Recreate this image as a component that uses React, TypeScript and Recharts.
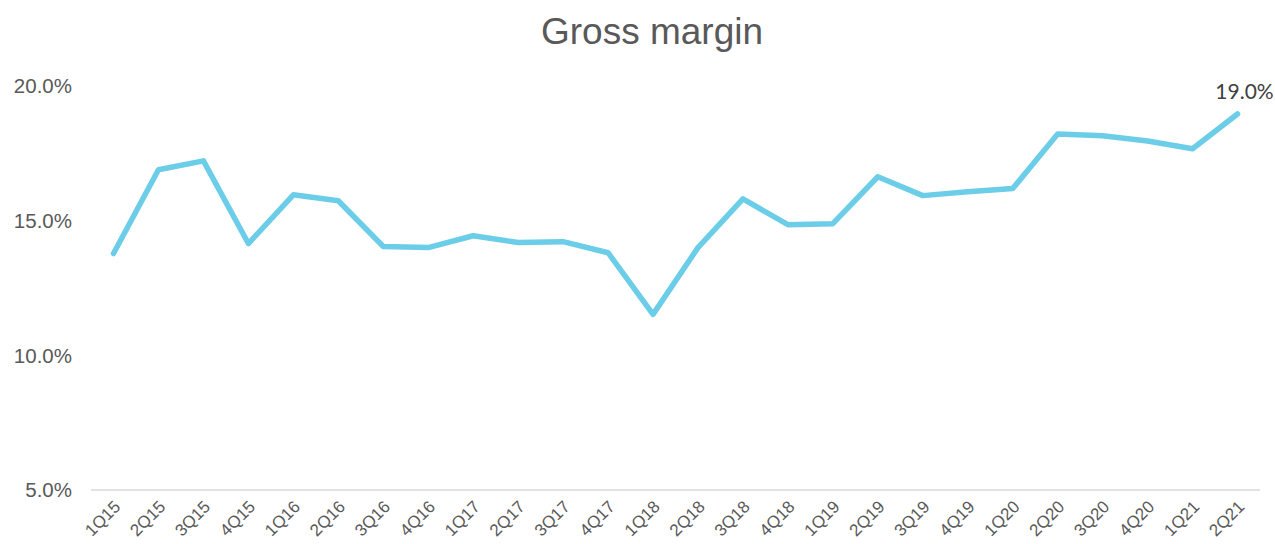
import { CartesianGrid, LabelList, Line, LineChart, XAxis, YAxis } from "recharts";

const quarters = [
  "1Q15", "2Q15", "3Q15", "4Q15", "1Q16", "2Q16", "3Q16", "4Q16", "1Q17", "2Q17", "3Q17", "4Q17", "1Q18",
  "2Q18", "3Q18", "4Q18", "1Q19", "2Q19", "3Q19", "4Q19", "1Q20", "2Q20", "3Q20", "4Q20", "1Q21", "2Q21",
];
const grossMargin = [
  13.78, 16.89, 17.22, 14.15, 15.96, 15.74, 14.04, 14.0, 14.44, 14.19, 14.22, 13.81, 11.52,
  14.0, 15.81, 14.85, 14.89, 16.63, 15.93, 16.07, 16.19, 18.22, 18.15, 17.96, 17.67, 18.96,
];
const yTicks = [5, 10, 15, 20];

const data = quarters.map((q, i) => ({ q, gm: grossMargin[i] }));

const XTick = (props: any) => {
  const { x, y, payload } = props;
  return (
    <text
      x={x + 4}
      y={y + 6}
      transform={`rotate(-45, ${x + 4}, ${y + 6})`}
      textAnchor="end"
      dominantBaseline="central"
      fill="#595959"
      fontSize={17}
      fontFamily="'Liberation Sans', Arial, sans-serif"
    >
      {payload.value}
    </text>
  );
};

const LastLabel = (props: any) => {
  const { x, y, index, value } = props;
  if (index !== quarters.length - 1) return null;
  return (
    <text x={x + 7} y={y - 15} textAnchor="middle" fill="#404040" fontSize={21} fontFamily="Lato, 'Open Sans', sans-serif">
      {value.toFixed(1)}%
    </text>
  );
};

export default function App() {
  return (
    <div style={{ position: "fixed", left: 0, top: 0, width: 1275, height: 544, background: "#fff" }}>
      <div
        style={{
          position: "absolute",
          left: 29,
          width: 1246,
          top: 11,
          textAlign: "center",
          fontFamily: "'Liberation Sans', Arial, sans-serif",
          fontSize: 37,
          color: "#595959",
          lineHeight: "42px",
        }}
      >
        Gross margin
      </div>
      <LineChart width={1275} height={544} data={data} margin={{ top: 86, right: 15, bottom: 0, left: 0 }}>
        <CartesianGrid horizontal={false} vertical={false} />
        <XAxis
          dataKey="q"
          interval={0}
          height={54}
          padding={{ left: 22.5, right: 22.5 }}
          axisLine={{ stroke: "#D9D9D9", strokeWidth: 1.5 }}
          tickLine={false}
          tick={<XTick />}
        />
        <YAxis
          domain={[5, 20]}
          ticks={yTicks}
          width={91}
          axisLine={false}
          tickLine={false}
          tickSize={0}
          tickMargin={19}
          tick={{ fill: "#595959", fontSize: 20.5, fontFamily: "'Liberation Sans', Arial, sans-serif" }}
          tickFormatter={(v: number) => `${v.toFixed(1)}%`}
        />
        <Line
          type="linear"
          dataKey="gm"
          stroke="#6BCDE7"
          strokeWidth={5.5}
          strokeLinejoin="round"
          strokeLinecap="round"
          dot={false}
          isAnimationActive={false}
        >
          <LabelList dataKey="gm" content={<LastLabel />} />
        </Line>
      </LineChart>
    </div>
  );
}
